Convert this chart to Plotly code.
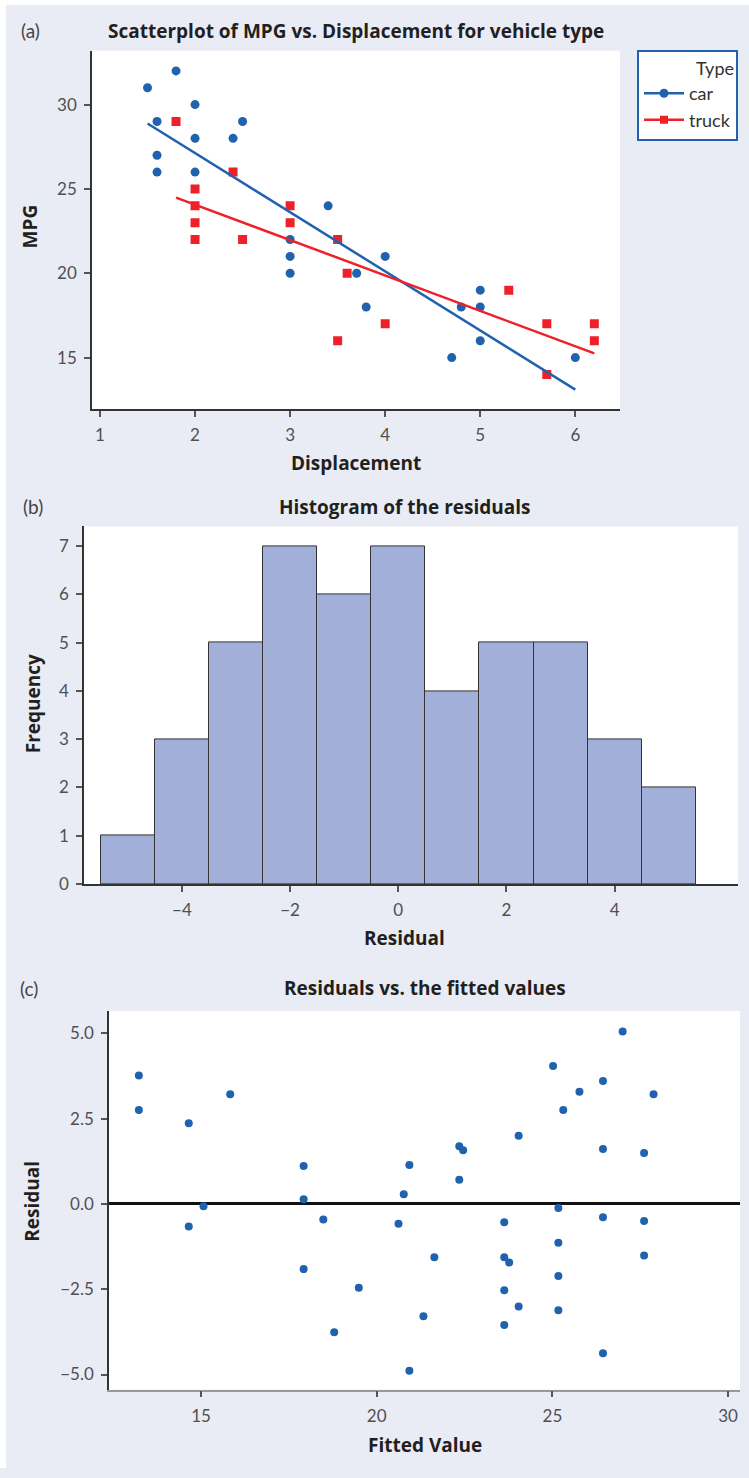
import plotly.graph_objects as go

# ---------------- data ----------------
car_disp = [1.5, 1.8, 2.0, 1.6, 2.5, 2.0, 2.4, 1.6, 1.6, 2.0, 3.4, 3.0, 3.0, 3.0, 3.7, 4.0, 3.8, 4.7, 4.8, 5.0, 5.0, 5.0, 6.0]
car_mpg = [31, 32, 30, 29, 29, 28, 28, 27, 26, 26, 24, 22, 21, 20, 20, 21, 18, 15, 18, 19, 18, 16, 15]
truck_disp = [1.8, 2.4, 2.0, 2.0, 2.0, 2.0, 2.5, 3.0, 3.0, 3.5, 3.6, 4.0, 3.5, 5.3, 5.7, 5.7, 6.2, 6.2]
truck_mpg = [29, 26, 25, 24, 23, 22, 22, 24, 23, 22, 20, 17, 16, 19, 17, 14, 17, 16]
car_fit_x = [1.5, 6.0]
car_fit_y = [28.88, 13.1]
truck_fit_x = [1.8, 6.2]
truck_fit_y = [24.49, 15.25]

bin_centers = [-5, -4, -3, -2, -1, 0, 1, 2, 3, 4, 5]
bin_counts = [1, 3, 5, 7, 6, 7, 4, 5, 5, 3, 2]

fitted = [13.23, 13.23, 14.65, 15.83, 17.92, 17.92, 20.93, 20.77,
          15.07, 14.65, 18.48, 20.62, 17.92, 19.49, 18.79, 20.93,
          27.0, 25.02, 26.44, 25.77, 27.88, 25.31, 24.04, 22.35, 22.46, 26.44, 27.61, 22.35,
          25.17, 26.44, 27.61, 23.63, 25.17, 21.64, 23.63, 23.77, 27.61, 25.17, 23.63, 24.04,
          25.17, 23.63, 21.33, 26.44]
residual = [3.76, 2.75, 2.36, 3.21, 1.11, 0.14, 1.14, 0.28,
            -0.07, -0.66, -0.46, -0.58, -1.91, -2.46, -3.76, -4.89,
            5.05, 4.04, 3.60, 3.29, 3.21, 2.75, 2.00, 1.69, 1.57, 1.61, 1.49, 0.71,
            -0.12, -0.39, -0.50, -0.54, -1.14, -1.56, -1.56, -1.72, -1.51, -2.11, -2.53, -3.01,
            -3.12, -3.55, -3.29, -4.38]

# ---------------- style ----------------
W, H = 749, 1478
BG = "#E9ECF5"
BLUE = "#2162AF"
RED = "#EE2128"
HISTFILL = "#A2AFD8"
TXT = "#231F20"
TICK = "#505050"
FONT = "Lato"
TFONT = "Open Sans"


def px(x):
    return x / W


def py(y):
    return 1 - y / H


fig = go.Figure()

# panel (a)
fig.add_trace(go.Scatter(x=car_disp, y=car_mpg, mode="markers", showlegend=False,
                         marker=dict(color=BLUE, size=9, symbol="circle"), xaxis="x", yaxis="y"))
fig.add_trace(go.Scatter(x=truck_disp, y=truck_mpg, mode="markers", showlegend=False,
                         marker=dict(color=RED, size=9, symbol="square"), xaxis="x", yaxis="y"))
fig.add_trace(go.Scatter(x=car_fit_x, y=car_fit_y, mode="lines", showlegend=False,
                         line=dict(color=BLUE, width=2.5), xaxis="x", yaxis="y"))
fig.add_trace(go.Scatter(x=truck_fit_x, y=truck_fit_y, mode="lines", showlegend=False,
                         line=dict(color=RED, width=2.5), xaxis="x", yaxis="y"))
fig.add_trace(go.Scatter(x=[None], y=[None], mode="lines+markers", name="car",
                         line=dict(color=BLUE, width=2.5),
                         marker=dict(color=BLUE, size=9, symbol="circle"), xaxis="x", yaxis="y"))
fig.add_trace(go.Scatter(x=[None], y=[None], mode="lines+markers", name="truck",
                         line=dict(color=RED, width=2.5),
                         marker=dict(color=RED, size=8, symbol="square"), xaxis="x", yaxis="y"))

# panel (b)
fig.add_trace(go.Bar(x=bin_centers, y=bin_counts, width=1, showlegend=False,
                     marker=dict(color=HISTFILL, line=dict(color="#333333", width=1)),
                     xaxis="x2", yaxis="y2"))

# panel (c)
fig.add_trace(go.Scatter(x=fitted, y=residual, mode="markers", showlegend=False,
                         marker=dict(color=BLUE, size=8), xaxis="x3", yaxis="y3"))

axis_common = dict(showgrid=False, ticks="outside", ticklen=6, tickwidth=1.5,
                   tickcolor="#555555", showline=True, linewidth=1.5, linecolor="#333333",
                   tickfont=dict(family=FONT, size=17, color=TICK), zeroline=False,
                   ticklabelstandoff=4)

fig.update_layout(
    width=W, height=H,
    margin=dict(l=0, r=0, t=0, b=0),
    paper_bgcolor=BG, plot_bgcolor="white",
    font=dict(family=FONT, color=TXT),
    bargap=0,
    xaxis=dict(axis_common, domain=[px(92), px(620)], range=[0.916, 6.47],
               tickvals=[1, 2, 3, 4, 5, 6], anchor="y"),
    yaxis=dict(axis_common, domain=[py(412), py(51)], range=[11.94, 33.2],
               tickvals=[15, 20, 25, 30], anchor="x"),
    xaxis2=dict(axis_common, domain=[px(84), px(738)], range=[-5.81, 6.28],
                tickvals=[-4, -2, 0, 2, 4], anchor="y2"),
    yaxis2=dict(axis_common, domain=[py(890), py(530)], range=[0, 7.41],
                tickvals=[0, 1, 2, 3, 4, 5, 6, 7], anchor="x2"),
    xaxis3=dict(axis_common, domain=[px(109), px(740)], range=[12.38, 30.34],
                tickvals=[15, 20, 25, 30], anchor="y3", linecolor="#9a9a9a"),
    yaxis3=dict(axis_common, domain=[py(1399), py(1018)], range=[-5.44, 5.65],
                tickvals=[-5, -2.5, 0, 2.5, 5], tickformat=".1f", anchor="x3",
                zeroline=True, zerolinecolor="#111111", zerolinewidth=2.5),
    legend=dict(x=px(637), y=py(50), xanchor="left", yanchor="top",
                bgcolor="white", bordercolor=BLUE, borderwidth=2,
                font=dict(family=FONT, size=18, color="#333333"),
                title=dict(text="Type", side="top right", font=dict(family=FONT, size=18, color="#333333")),
                itemwidth=40, tracegroupgap=0),
)

# white margin strips at top and left
fig.add_shape(type="rect", xref="paper", yref="paper", x0=0, x1=1, y0=py(5), y1=1,
              fillcolor="white", line=dict(width=0), layer="below")
fig.add_shape(type="rect", xref="paper", yref="paper", x0=0, x1=px(6), y0=0, y1=1,
              fillcolor="white", line=dict(width=0), layer="below")


def note(text, x, y, size=19, bold=True, color=TXT, angle=0, family=TFONT):
    fig.add_annotation(text=f"<b>{text}</b>" if bold else text, x=px(x), y=py(y),
                       xref="paper", yref="paper", showarrow=False, textangle=angle,
                       xanchor="center", yanchor="middle",
                       font=dict(family=family, size=size, color=color))


# panel labels
note("(a)", 30, 31, size=19, bold=False, color="#444444", family=FONT)
note("(b)", 33, 510, size=19, bold=False, color="#444444", family=FONT)
note("(c)", 29, 995, size=19, bold=False, color="#444444", family=FONT)

# titles
note("Scatterplot of MPG vs. Displacement for vehicle type", 356, 31)
note("Histogram of the residuals", 405, 510)
note("Residuals vs. the fitted values", 425, 995)

# axis titles
note("Displacement", 356, 466)
note("MPG", 30, 228, angle=-90)
note("Residual", 404, 944)
note("Frequency", 33, 709, angle=-90)
note("Fitted Value", 425, 1455)
note("Residual", 32, 1210, angle=-90)

fig.write_html("out.html")
